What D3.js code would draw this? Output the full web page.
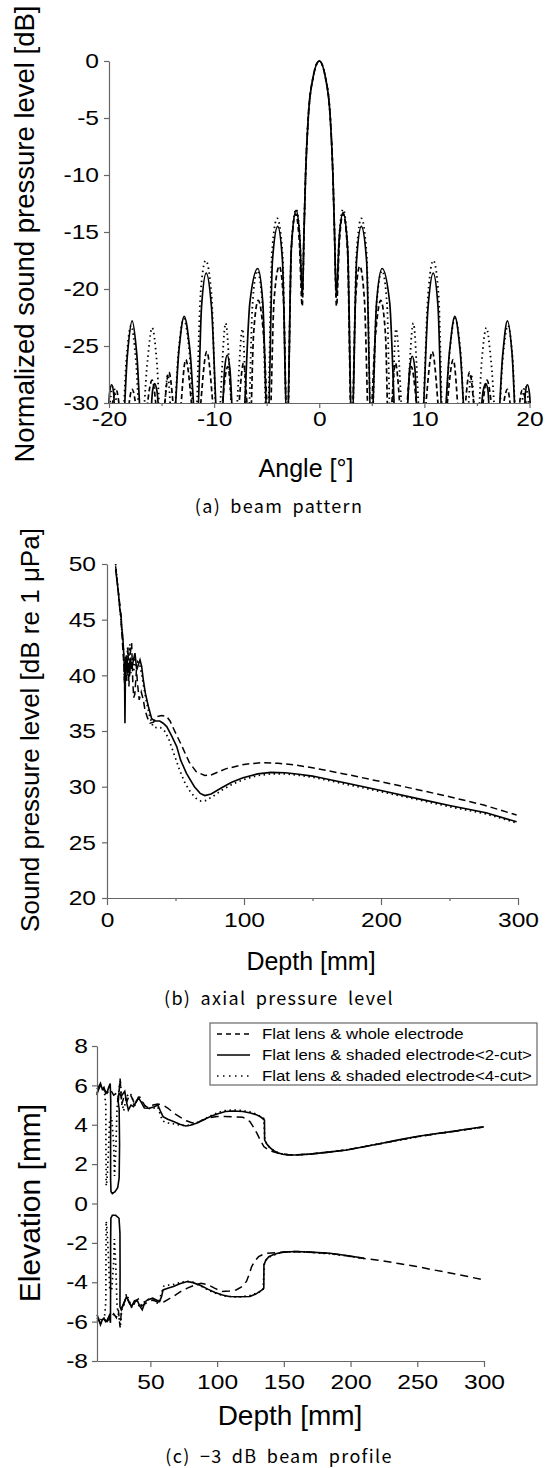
<!DOCTYPE html>
<html lang="en">
<head>
<meta charset="UTF-8">
<title>Beam pattern / axial pressure level / -3 dB beam profile</title>
<script src="https://d3js.org/d3.v7.min.js"></script>
<style>
  body { margin: 0; background: #fff; }
  svg text { font-family: "Liberation Sans", Arial, sans-serif; fill: #000; }
  .axis path, .axis line { stroke: #666; stroke-width: 1.2px; }
  .axis text { font-size: 21px; }
  .caption { font-family: "Noto Sans CJK KR", sans-serif !important; font-size: 18px; letter-spacing: 1.3px; word-spacing: 4px; }
  .series { fill: none; stroke: #000; }
</style>
</head>
<body>
<svg width="545" height="1468"></svg>
<script>
// ---------- (a) beam pattern : [angle deg, dB] ----------
const angleTicks = [-20, -10, 0, 10, 20];
const angleMinor = [-15, -5, 5, 15];
const dbTicks = [0, -5, -10, -15, -20, -25, -30];

// flat lens & shaded electrode <2-cut> (solid)
const beam2Cut = [
  [-20.1,-33],[-19.95,-29.2],[-19.75,-28.4],[-19.55,-29.2],[-19.4,-33],
  [-18.75,-33],[-18.25,-25.8],[-17.8,-22.8],[-17.35,-25.8],[-16.85,-33],
  [-16.2,-33],[-15.85,-28.9],[-15.65,-28.3],[-15.45,-28.9],[-15.0,-33],
  [-13.95,-33],[-13.35,-25.4],[-12.85,-22.4],[-12.3,-25.4],[-11.65,-33],
  [-11.2,-21.6],[-10.75,-18.6],[-10.25,-21.6],[-9.6,-33],
  [-9.35,-33],[-9.0,-27],[-8.75,-25.8],[-8.5,-27],[-8.1,-33],
  [-7.35,-33],[-6.6,-21.2],[-5.85,-18.2],[-5.37,-21.2],[-4.9,-33],
  [-4.45,-17.5],[-3.95,-14.5],[-3.5,-17.5],[-3.05,-33],
  [-2.65,-16.3],[-2.2,-13.1],[-1.85,-15.5],[-1.6,-20.7],
  [-1.45,-15],[-1.3,-10],[-1.05,-5],[-0.6,-1.5],[0,0],[0.6,-1.5],[1.05,-5],[1.3,-10],[1.45,-15],
  [1.62,-20.7],[1.9,-15.5],[2.27,-13.3],[2.7,-16.4],[3.1,-33],
  [3.55,-17.5],[4.0,-14.5],[4.5,-17.5],[4.95,-33],
  [5.45,-21.2],[5.98,-18.2],[6.7,-21.2],[7.35,-33],
  [8.2,-33],[8.6,-27],[8.84,-25.9],[9.1,-27],[9.4,-33],
  [9.7,-33],[10.35,-21.6],[10.84,-18.6],[11.3,-21.6],[11.75,-33],
  [12.4,-25.4],[12.9,-22.4],[13.4,-25.4],[14.0,-33],
  [15.1,-33],[15.6,-28.9],[15.83,-28.3],[16.05,-28.9],[16.3,-33],
  [16.9,-33],[17.45,-25.8],[17.9,-22.8],[18.35,-25.8],[18.8,-33],
  [19.45,-33],[19.6,-29.2],[19.8,-28.4],[20.0,-29.2],[20.2,-33]
];

// flat lens & whole electrode (dashed)
const beamWhole = [
  [-20.1,-33],[-19.3,-28.9],[-18.6,-33],[-17.8,-28.8],[-16.9,-33],[-15.9,-28.0],[-15.1,-33],
  [-14.3,-27.3],[-13.5,-33],[-12.7,-26.2],[-11.7,-33],[-10.7,-25.5],[-9.7,-33],
  [-8.7,-26.8],[-8.0,-33],[-7.2,-26.5],[-6.6,-33],
  [-6.25,-24],[-5.8,-21.0],[-5.3,-24],[-4.75,-33],
  [-4.3,-21],[-3.8,-18.0],[-3.4,-21],[-3.05,-33],
  [-2.65,-16.5],[-2.25,-13.4],[-1.9,-15.8],[-1.62,-21.5],
  [-1.45,-15],[-1.3,-10],[-1.05,-5],[-0.6,-1.5],[0,0],[0.6,-1.5],[1.05,-5],[1.3,-10],[1.45,-15],
  [1.64,-21.5],[1.92,-15.8],[2.27,-13.4],[2.68,-16.5],[3.08,-33],
  [3.45,-21],[3.85,-18.0],[4.3,-21],[4.75,-33],
  [5.35,-24],[5.85,-21.0],[6.3,-24],[6.6,-33],
  [7.25,-26.5],[8.0,-33],[8.75,-26.8],[9.7,-33],[10.75,-25.5],[11.7,-33],
  [12.75,-26.2],[13.5,-33],[14.3,-27.3],[15.1,-33],[15.95,-28.0],[16.9,-33],
  [17.9,-28.8],[18.6,-33],[19.3,-28.9],[20.1,-33]
];

// flat lens & shaded electrode <4-cut> (dotted)
const beam4Cut = [
  [-20.2,-33],[-19.6,-28.5],[-18.8,-33],
  [-18.35,-26.2],[-17.9,-23.2],[-17.45,-26.2],[-16.95,-33],
  [-16.35,-26.4],[-15.9,-23.4],[-15.45,-26.4],[-15.0,-33],
  [-14.4,-27.5],[-13.95,-33],
  [-13.4,-25.6],[-12.9,-22.6],[-12.35,-25.6],[-11.8,-33],
  [-11.3,-20.5],[-10.8,-17.5],[-10.25,-20.5],[-9.7,-33],
  [-8.9,-23.0],[-8.1,-33],[-7.3,-23.5],[-6.8,-33],
  [-6.35,-21.4],[-5.9,-18.4],[-5.4,-21.4],[-4.95,-33],
  [-4.5,-16.8],[-4.0,-13.8],[-3.5,-16.8],[-3.05,-33],
  [-2.65,-16.2],[-2.2,-13.0],[-1.85,-15.4],[-1.6,-20.5],
  [-1.45,-15],[-1.3,-10],[-1.05,-5],[-0.6,-1.5],[0,0],[0.6,-1.5],[1.05,-5],[1.3,-10],[1.45,-15],
  [1.62,-20.5],[1.9,-15.4],[2.27,-13.0],[2.7,-16.2],[3.1,-33],
  [3.55,-16.8],[4.0,-13.8],[4.5,-16.8],[4.95,-33],
  [5.45,-21.4],[5.98,-18.4],[6.45,-21.4],[6.8,-33],
  [7.3,-23.5],[8.1,-33],[8.95,-23.0],[9.7,-33],
  [10.35,-20.5],[10.85,-17.5],[11.35,-20.5],[11.8,-33],
  [12.4,-25.6],[12.9,-22.6],[13.45,-25.6],[13.95,-33],
  [14.45,-27.5],[15.0,-33],
  [15.45,-26.4],[15.9,-23.4],[16.35,-26.4],[16.95,-33],
  [17.45,-26.2],[17.95,-23.2],[18.4,-26.2],[18.8,-33],
  [19.6,-28.5],[20.2,-33]
];

// ---------- (b) axial pressure level : [depth mm, dB re 1 uPa] ----------
const depthTicksB = [0, 100, 200, 300];
const depthMinorB = [50, 150, 250];
const splTicks = [20, 25, 30, 35, 40, 45, 50];

const axial2Cut = [
  [6.3,49.5],[7.5,48.3],[8.5,47.2],[9.5,45.8],[10.2,45.5],[10.8,44.2],[11.5,43.5],[12.2,42.0],
  [12.8,40.5],[13.1,35.7],[13.5,40.8],[14.2,41.8],[15.0,40.2],[15.6,41.1],[16.5,40.0],[17.2,41.5],
  [18,40.6],[19,41.2],[20.4,42.0],[21.7,40.5],[23,41.0],[24.1,41.4],[25.3,40.8],[26.5,39.6],
  [28,38.4],[30.2,37.2],[32.6,36.1],[35,35.9],[38.5,35.9],[41,35.7],[43.6,35.4],[47,34.6],
  [50.9,33.6],[53.7,32.4],[58,31.2],[63.8,30.0],[68,29.4],[71.4,29.2],[76,29.35],[84,29.93],
  [91,30.4],[99.3,30.8],[110,31.15],[119.6,31.28],[130,31.25],[140,31.12],[150,30.95],
  [162,30.65],[175.3,30.3],[200,29.65],[226,28.95],[250,28.3],[276.7,27.65],[299,26.85]
];
const axialWhole = [
  [6.3,49.8],[8,47.8],[9.5,46.2],[10.5,44.5],[11.5,42.5],[12.3,41.0],[13,38.5],[13.7,41.5],
  [14.5,39.5],[15.3,42.5],[16,39.0],[17,42.0],[18,42.9],[18.8,39.5],[19.5,38.0],[20.3,38.3],
  [21.5,40.5],[22.5,39.0],[23.5,37.8],[25,38.5],[26.5,37.8],[27.7,36.9],[29.5,36.2],[31.4,35.7],
  [34,35.8],[36.5,36.3],[39.9,36.4],[43.6,36.3],[46,35.9],[48.6,35.2],[53.7,33.9],[60,32.2],
  [65.1,31.35],[71.4,31.0],[76,31.05],[86.6,31.6],[100,32.0],[112,32.15],[125,32.1],[137,31.95],
  [150,31.7],[175,31.1],[200,30.45],[226,29.75],[250,29.1],[275,28.35],[299,27.45]
];
const axial4Cut = [
  [6.3,50.0],[7.5,48.5],[9,46.5],[10,45.2],[11,43.8],[12,42.3],[12.8,39.5],[13.5,41.8],
  [14.3,40.5],[15,42.5],[15.8,41.0],[16.7,42.8],[17.5,40.2],[18.5,41.5],[19.5,40.3],[20.5,41.6],
  [21.5,40.6],[22.5,41.2],[24,40.9],[25.5,40.0],[27,38.8],[29,37.5],[31,36.4],[33.6,35.4],
  [36,35.3],[39,35.3],[42,35.0],[45,34.3],[49,32.9],[53,31.5],[57,30.3],[61,29.5],[65,28.95],
  [68.6,28.7],[72,28.75],[77,29.1],[84,29.7],[92,30.25],[100,30.65],[110,31.0],[120,31.15],
  [130,31.15],[140,31.02],[150,30.85],[162,30.55],[175,30.2],[200,29.55],[226,28.85],
  [250,28.2],[276.7,27.55],[299,26.75]
];

// ---------- (c) -3 dB beam profile : [depth mm, elevation mm] ----------
const depthTicksC = [50, 100, 150, 200, 250, 300];
const elevTicks = [-8, -6, -4, -2, 0, 2, 4, 6, 8];

const prof2CutUpper = [
  [10,5.5],[11,5.9],[12.6,6.1],[14,5.8],[15.2,5.9],[16.5,5.6],[17.8,5.7],[18.8,5.9],[19.9,6.1],
  [20.3,5.2],[20.2,3.0],[20.2,1.2],[20.5,0.6],[21.5,0.5],[23.5,0.6],[25.5,0.8],[26.6,1.3],
  [26.9,3.0],[26.6,4.8],[25.6,5.3],[26.5,5.6],[28.2,5.45],[30.8,5.7],[32.3,5.1],[33.5,4.75],
  [35.5,5.0],[37.4,4.92],[39.5,5.2],[41.3,5.35],[43.5,5.1],[45.5,4.85],[49.1,4.84],[52.5,4.9],
  [55.6,5.0],[57.5,4.7],[59.5,4.41],[63,4.28],[67.3,4.16],[72,4.02],[76.4,3.94],[80,3.97],
  [85.5,4.1],[90,4.26],[95.9,4.44],[100,4.55],[106.3,4.67],[112,4.7],[119.3,4.67],[125,4.6],
  [129.8,4.5],[133,4.38],[135.5,4.24],[135.6,3.23],[137,3.05],[138.8,2.89],[142,2.7],[145.4,2.58],
  [149,2.5],[153.2,2.47],[160,2.46],[171.4,2.52],[185,2.62],[197.4,2.72],[210,2.88],[223.5,3.06],
  [236,3.23],[249.5,3.4],[262,3.53],[275.5,3.65],[288,3.78],[299.7,3.9]
];
const prof2CutLower = [
  [10,-5.65],[11.5,-5.9],[12.6,-6.16],[14,-5.9],[15.2,-5.82],[16.5,-6.0],[17.8,-5.9],[19.2,-5.7],
  [20.1,-6.06],[20.2,-4.0],[20.2,-2.0],[20.4,-0.75],[21.5,-0.6],[24,-0.6],[26.5,-0.75],[27.2,-1.5],
  [27.3,-3.5],[27.2,-5.24],[28.2,-5.4],[30,-5.1],[32.1,-4.73],[34,-5.0],[36,-5.24],[38,-4.95],
  [40,-4.9],[42,-5.2],[43.9,-5.4],[46,-5.0],[47.8,-4.9],[51.7,-4.81],[54.5,-4.9],[56.9,-4.98],
  [58.5,-4.7],[59.5,-4.39],[63,-4.3],[67.3,-4.22],[72,-4.08],[77.7,-3.96],[82,-4.02],[88.1,-4.18],
  [93,-4.35],[98.5,-4.52],[104,-4.65],[109,-4.72],[116,-4.74],[124.6,-4.72],[129,-4.6],
  [133.7,-4.39],[135,-4.3],[135.1,-3.12],[136.5,-2.88],[138.8,-2.7],[142,-2.6],[145.4,-2.53],
  [150,-2.47],[158.4,-2.44],[170,-2.47],[184.4,-2.53],[197,-2.64],[210.4,-2.78]
];
const profWholeUpper = [
  [10,5.6],[12.6,6.0],[15,5.8],[17.5,5.6],[20,5.8],[22.5,5.5],[24.5,5.6],[26,5.2],[27.3,6.35],
  [28.5,5.0],[30.5,5.5],[32.5,5.2],[34.5,5.55],[36,5.4],[38.5,5.0],[41,5.4],[43.5,5.25],[46,4.95],
  [49,4.85],[52,5.0],[55.6,5.05],[59.5,5.0],[63,4.85],[67,4.62],[72,4.4],[77,4.2],[81,4.1],
  [85.5,4.12],[90,4.25],[95,4.36],[100,4.42],[106,4.42],[113,4.4],[119.3,4.38],[122,4.28],
  [124.6,4.16],[127,3.9],[129.8,3.57],[132.5,3.2],[135,2.89],[138,2.75],[141.5,2.64],[146,2.55],
  [153,2.48],[160,2.47],[171.4,2.53],[185,2.62],[197.4,2.73],[210,2.88],[223.5,3.05],[236,3.22],
  [249.5,3.39],[262,3.52],[275.5,3.64],[288,3.77],[299.7,3.88]
];
const profWholeLower = [
  [10,-5.8],[12.6,-6.1],[15,-5.85],[17.5,-6.0],[20,-5.8],[22.5,-5.6],[24.5,-5.8],[26,-5.4],
  [27.3,-6.3],[28.5,-5.3],[30.5,-5.0],[32.5,-4.8],[34.5,-5.1],[36.5,-5.3],[38.5,-5.0],[41,-4.85],
  [43.5,-5.2],[46,-5.1],[49,-4.95],[52,-4.9],[56.9,-5.05],[60,-5.0],[63,-4.88],[67.3,-4.72],
  [72,-4.5],[77.7,-4.3],[83,-4.15],[88,-4.05],[93,-4.12],[98,-4.3],[103.7,-4.47],[109,-4.45],
  [114.2,-4.39],[118,-4.25],[122,-3.96],[124,-3.6],[125.9,-3.2],[128.5,-2.9],[131.1,-2.7],
  [134,-2.6],[137.5,-2.53],[145,-2.49],[152,-2.46],[160,-2.44],[170,-2.47],[184.4,-2.54],
  [197,-2.65],[210.4,-2.8],[223.4,-2.9],[236,-3.05],[249.5,-3.2],[262,-3.37],[275.5,-3.54],
  [288,-3.71],[299.7,-3.88]
];
const prof4CutUpper = [
  [10,5.8],[12,6.0],[14,5.9],[15.5,5.7],[16.6,5.0],[16.7,3.0],[16.9,0.9],[17.5,1.2],[18.5,2.5],
  [19.5,4.3],[21,4.4],[22.5,3.0],[23.1,1.4],[24,2.5],[25,4.8],[26,5.5],[27.5,6.3],[28.5,5.2],
  [30,4.7],[32,5.4],[34,5.6],[36,5.5],[38,4.9],[40,5.3],[42,5.4],[44,5.1],[47,4.9],[50,4.8],
  [53,4.85],[55.6,4.9],[57.5,4.5],[59,4.2],[62,4.1],[67,4.05],[72,3.98],[77,3.95],[82,4.02],
  [88,4.2],[95,4.45],[100,4.6],[106,4.72],[113,4.75],[119,4.72],[125,4.64],[130,4.52],[135,4.32],
  [135.8,3.2],[138,2.95],[141,2.75],[145,2.6],[150,2.5],[155,2.47],[165,2.48],[175,2.55],
  [190,2.66],[205,2.82],[220,3.02],[235,3.2],[250,3.38],[265,3.55],[280,3.7],[299.7,3.88]
];
const prof4CutLower = [
  [10,-5.9],[12,-6.0],[14,-5.8],[15.5,-5.9],[16.6,-5.0],[16.7,-3.0],[16.9,-0.9],[17.5,-1.3],
  [18.5,-2.6],[19.5,-4.3],[21,-4.4],[22.5,-3.0],[23,-1.8],[24,-3.0],[25,-5.2],[26,-5.6],
  [27.5,-6.25],[28.5,-5.4],[30,-5.2],[32,-4.6],[34,-4.9],[36,-5.3],[38,-5.0],[40,-4.95],[42,-5.3],
  [44,-5.1],[47,-4.9],[50,-4.85],[53,-4.95],[56,-5.1],[58,-4.6],[60,-4.2],[63,-4.15],[67,-4.12],
  [72,-4.02],[77,-3.95],[82,-4.0],[88,-4.2],[95,-4.45],[100,-4.58],[106,-4.7],[113,-4.74],
  [119,-4.74],[125,-4.66],[130,-4.55],[134.5,-4.4],[135.3,-3.1],[137,-2.85],[140,-2.68],
  [145,-2.55],[150,-2.47],[158,-2.44],[170,-2.48],[184,-2.55],[197,-2.66],[210,-2.8]
];

const legendLabels = [
  "Flat lens & whole electrode",
  "Flat lens & shaded electrode<2-cut>",
  "Flat lens & shaded electrode<4-cut>"
];

// line styles: whole = dashed, 2-cut = solid, 4-cut = dotted
const dashWhole = "7,4";
const dash4Cut = "1.5,3.5";

const svg = d3.select("svg");
const fmt = d => String(d);

// the figure's lettering is a bit wider than Liberation Sans
function widen(sel, k) {
  sel.each(function() {
    const w = this.getComputedTextLength();
    d3.select(this).attr("textLength", w * k).attr("lengthAdjust", "spacingAndGlyphs");
  });
}

function addAxes(x, y, opt) {
  const bottom = y.range()[0], left = x.range()[0];
  const gx = svg.append("g").attr("class", "axis")
    .attr("transform", `translate(0,${bottom})`)
    .call(d3.axisBottom(x).tickValues(opt.xTicks).tickFormat(fmt)
      .tickSize(opt.xTickSize).tickSizeOuter(0).tickPadding(opt.xPad));
  if (opt.xMinor) {
    svg.append("g").attr("class", "axis")
      .attr("transform", `translate(0,${bottom})`)
      .call(d3.axisBottom(x).tickValues(opt.xMinor).tickFormat("")
        .tickSize(3).tickSizeOuter(0))
      .select(".domain").remove();
  }
  const gy = svg.append("g").attr("class", "axis")
    .attr("transform", `translate(${left},0)`)
    .call(d3.axisLeft(y).tickValues(opt.yTicks).tickFormat(fmt)
      .tickSize(5).tickSizeOuter(0).tickPadding(opt.yPad));
  widen(gx.selectAll("text"), 1.17);
  widen(gy.selectAll("text"), 1.17);
}

function addTitles(t) {
  svg.append("text").attr("x", t.xt[0]).attr("y", t.xt[1])
    .attr("text-anchor", "middle").style("font-size", t.xSize + "px").text(t.xLabel);
  svg.append("text").attr("transform", `translate(${t.yt[0]},${t.yt[1]}) rotate(-90)`)
    .attr("text-anchor", "middle").style("font-size", t.ySize + "px").text(t.yLabel);
  svg.append("text").attr("class", "caption").attr("x", 279).attr("y", t.cap[1])
    .attr("text-anchor", "middle").text(t.caption);
}

function drawLine(data, x, y, dash, curve, width, clip) {
  const line = d3.line().x(d => x(d[0])).y(d => y(d[1])).curve(curve || d3.curveLinear);
  const p = svg.append("path").datum(data).attr("class", "series")
    .attr("d", line).attr("stroke-width", width || 1.5);
  if (dash) p.attr("stroke-dasharray", dash);
  if (clip) p.attr("clip-path", `url(#${clip})`);
}

// ---------- panel (a) ----------
const xA = d3.scaleLinear().domain([-20, 20]).range([109, 529.5]);
const yA = d3.scaleLinear().domain([-30, 0]).range([403, 61]);
svg.append("clipPath").attr("id", "clipA").append("rect")
  .attr("x", 100).attr("y", 50).attr("width", 440).attr("height", 403 - 50);

drawLine(beamWhole, xA, yA, "5,3", d3.curveMonotoneX, 1.7, "clipA");
drawLine(beam4Cut, xA, yA, dash4Cut, d3.curveMonotoneX, 1.8, "clipA");
drawLine(beam2Cut, xA, yA, null, d3.curveMonotoneX, 1.7, "clipA");
addAxes(xA, yA, { xTicks: angleTicks, xMinor: angleMinor, yTicks: dbTicks, xTickSize: 5, xPad: 3, yPad: 5 });
addTitles({ xLabel: "Angle [°]", xt: [306, 477], xSize: 25,
  yLabel: "Normalized sound pressure level [dB]", yt: [34, 234], ySize: 27.5,
  caption: "(a) beam pattern", cap: [279, 513] });

// ---------- panel (b) ----------
const xB = d3.scaleLinear().domain([0, 300]).range([107, 518]);
const yB = d3.scaleLinear().domain([20, 50]).range([898, 564]);
drawLine(axialWhole, xB, yB, dashWhole, d3.curveLinear, 1.5);
drawLine(axial4Cut, xB, yB, dash4Cut, d3.curveLinear, 1.7);
drawLine(axial2Cut, xB, yB, null, d3.curveLinear, 1.6);
addAxes(xB, yB, { xTicks: depthTicksB, xMinor: depthMinorB, yTicks: splTicks, xTickSize: 7, xPad: 7, yPad: 6 });
addTitles({ xLabel: "Depth [mm]", xt: [311, 970], xSize: 25,
  yLabel: "Sound pressure level [dB re 1 μPa]", yt: [39, 730], ySize: 26,
  caption: "(b) axial pressure level", cap: [279, 1005] });

// ---------- panel (c) ----------
const xC = d3.scaleLinear().domain([10, 300]).range([97, 484]);
const yC = d3.scaleLinear().domain([-8, 8]).range([1361, 1046]);
[profWholeUpper, profWholeLower].forEach(s => drawLine(s, xC, yC, "8,5", d3.curveLinear, 1.5));
[prof4CutUpper, prof4CutLower].forEach(s => drawLine(s, xC, yC, dash4Cut, d3.curveLinear, 1.7));
[prof2CutUpper, prof2CutLower].forEach(s => drawLine(s, xC, yC, null, d3.curveLinear, 1.6));
addAxes(xC, yC, { xTicks: depthTicksC, yTicks: elevTicks, xTickSize: 6, xPad: 7, yPad: 4 });
addTitles({ xLabel: "Depth [mm]", xt: [290, 1425], xSize: 28,
  yLabel: "Elevation [mm]", yt: [40, 1203], ySize: 30,
  caption: "(c) −3 dB beam profile", cap: [279, 1463] });

// legend
const legend = svg.append("g");
legend.append("rect").attr("x", 210).attr("y", 1023).attr("width", 327).attr("height", 62)
  .attr("fill", "#fff").attr("stroke", "#666").attr("stroke-width", 1.2);
const legendDash = ["5,4", null, "1.5,4.5"];
legendLabels.forEach((lab, i) => {
  const yy = 1034 + i * 21;
  const l = legend.append("line").attr("x1", 217).attr("x2", 250).attr("y1", yy).attr("y2", yy)
    .attr("stroke", "#000").attr("stroke-width", 1.5);
  if (legendDash[i]) l.attr("stroke-dasharray", legendDash[i]);
  const t = legend.append("text").attr("x", 262).attr("y", yy).attr("dy", "0.35em")
    .style("font-size", "15px").text(lab);
  widen(t, 1.12);
});
</script>
</body>
</html>
